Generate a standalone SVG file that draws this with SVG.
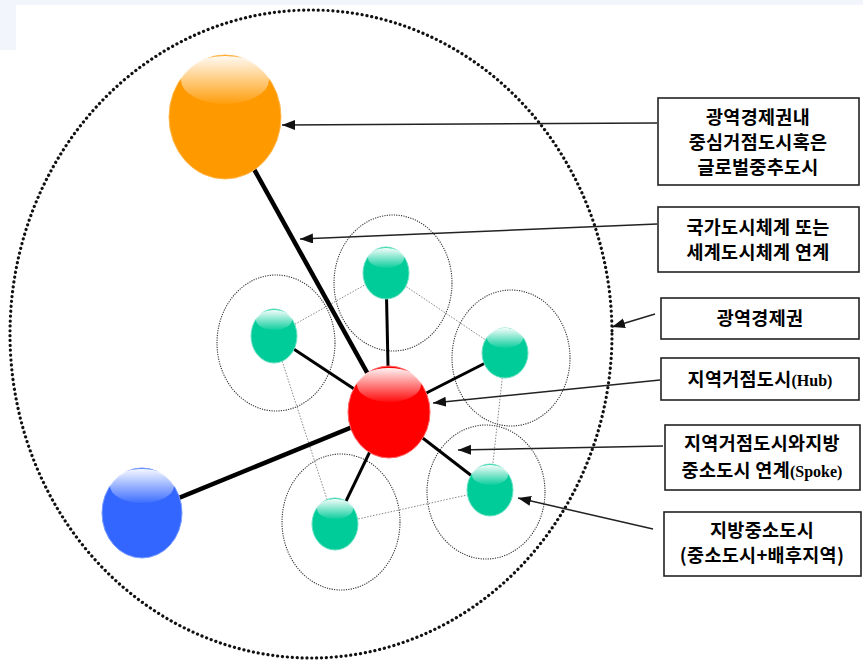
<svg xmlns="http://www.w3.org/2000/svg" width="863" height="661" viewBox="0 0 863 661">
<style>
.outer{fill:none;stroke:#111;stroke-width:3.2;stroke-linecap:round;stroke-dasharray:0.1 4.8}
.zone{fill:none;stroke:#333;stroke-width:1.1;stroke-dasharray:1.2 1.2}
.ring{fill:none;stroke:#888;stroke-width:1;stroke-dasharray:1.5 1.5}
.spoke{stroke:#000;stroke-width:3}
.link{stroke:#000;stroke-width:4.5}
.arrow{stroke:#222;stroke-width:1.5;fill:none;marker-end:url(#ah)}
.box{fill:#fff;stroke:#222;stroke-width:1.6}
.lbl{font-family:"Noto Sans CJK KR","Noto Sans",sans-serif;font-weight:bold;font-size:18.5px;fill:#000;text-anchor:middle;letter-spacing:0.3px}
.en{font-family:"Liberation Serif",serif;font-weight:bold;font-size:16px;letter-spacing:0}
.hl{fill:url(#shine)}
</style>
<defs>
<marker id="ah" markerUnits="userSpaceOnUse" markerWidth="14" markerHeight="12" refX="13" refY="5" orient="auto">
<path d="M0,0 L13,5 L0,10 Z" fill="#111"/>
</marker>
<linearGradient id="shine" x1="0" y1="0" x2="0" y2="1">
<stop offset="0" stop-color="#fff" stop-opacity="0.95"/>
<stop offset="1" stop-color="#fff" stop-opacity="0.05"/>
</linearGradient>
</defs>
<rect x="0" y="0" width="863" height="661" fill="#fff"/>
<rect x="0" y="0" width="863" height="5" fill="#f2f5fb"/>
<rect x="0" y="0" width="16" height="50" fill="#f2f5fb"/>

<g id="region">
<ellipse class="outer" cx="311" cy="334" rx="301" ry="324"/>
</g>

<g id="zones">
<ellipse class="zone" cx="393" cy="283" rx="59" ry="68"/>
<ellipse class="zone" cx="276" cy="343" rx="59" ry="68"/>
<ellipse class="zone" cx="511" cy="358" rx="59" ry="68"/>
<ellipse class="zone" cx="486" cy="492" rx="59" ry="67"/>
<ellipse class="zone" cx="341" cy="522" rx="59" ry="68"/>
</g>

<g id="connectors">
<path class="ring" d="M274,336 L386,273 L505,353 L490,490 L335,524 Z"/>
<line class="spoke" x1="389" y1="412" x2="386" y2="273"/>
<line class="spoke" x1="389" y1="412" x2="274" y2="336"/>
<line class="spoke" x1="389" y1="412" x2="505" y2="353"/>
<line class="spoke" x1="389" y1="412" x2="490" y2="490"/>
<line class="spoke" x1="389" y1="412" x2="335" y2="524"/>
<line class="link" x1="225" y1="117" x2="389" y2="412"/>
<line class="link" x1="142" y1="513" x2="389" y2="412"/>
</g>

<g id="node-global">
<ellipse cx="225" cy="117" rx="56" ry="62" fill="#ff9900" stroke="#ffb84d" stroke-width="1"/>
<ellipse class="hl" cx="225" cy="80" rx="44" ry="24"/>
</g>
<g id="node-blue">
<ellipse cx="142" cy="513" rx="40" ry="45" fill="#3366ff" stroke="#7a9cff" stroke-width="1"/>
<ellipse class="hl" cx="142" cy="486" rx="32" ry="17"/>
</g>
<g id="node-hub">
<ellipse cx="389" cy="412" rx="41" ry="46" fill="#ff0000" stroke="#ff6666" stroke-width="1"/>
<ellipse class="hl" cx="389" cy="385" rx="32" ry="17"/>
</g>
<g id="node-s1">
<ellipse cx="386" cy="273" rx="23" ry="26" fill="#00cc99" stroke="#66e0c2" stroke-width="1"/>
<ellipse class="hl" cx="386" cy="258" rx="18" ry="10"/>
</g>
<g id="node-s2">
<ellipse cx="274" cy="336" rx="23" ry="27" fill="#00cc99" stroke="#66e0c2" stroke-width="1"/>
<ellipse class="hl" cx="274" cy="320" rx="18" ry="10"/>
</g>
<g id="node-s3">
<ellipse cx="505" cy="353" rx="23" ry="25" fill="#00cc99" stroke="#66e0c2" stroke-width="1"/>
<ellipse class="hl" cx="505" cy="338" rx="18" ry="10"/>
</g>
<g id="node-s4">
<ellipse cx="490" cy="490" rx="23" ry="26" fill="#00cc99" stroke="#66e0c2" stroke-width="1"/>
<ellipse class="hl" cx="490" cy="475" rx="18" ry="10"/>
</g>
<g id="node-s5">
<ellipse cx="335" cy="524" rx="23" ry="26" fill="#00cc99" stroke="#66e0c2" stroke-width="1"/>
<ellipse class="hl" cx="335" cy="509" rx="18" ry="10"/>
</g>

<g id="arrows">
<line class="arrow" x1="657" y1="123" x2="282" y2="125"/>
<line class="arrow" x1="657" y1="224" x2="300" y2="239"/>
<line class="arrow" x1="655" y1="314" x2="612" y2="327"/>
<line class="arrow" x1="660" y1="380" x2="433" y2="403"/>
<line class="arrow" x1="663" y1="446" x2="458" y2="450"/>
<line class="arrow" x1="653" y1="529" x2="518" y2="498"/>
</g>

<g id="label-global">
<rect class="box" x="658" y="98" width="201" height="87"/>
<text class="lbl" x="758" y="124">광역경제권내</text>
<text class="lbl" x="758" y="149">중심거점도시혹은</text>
<text class="lbl" x="758" y="174">글로벌중추도시</text>
</g>
<g id="label-national">
<rect class="box" x="658" y="207" width="201" height="65"/>
<text class="lbl" x="758" y="234">국가도시체계 또는</text>
<text class="lbl" x="758" y="259">세계도시체계 연계</text>
</g>
<g id="label-region">
<rect class="box" x="661" y="298" width="198" height="41"/>
<text class="lbl" x="760" y="325">광역경제권</text>
</g>
<g id="label-hub">
<rect class="box" x="661" y="358" width="198" height="42"/>
<text class="lbl" x="760" y="386">지역거점도시<tspan class="en">(Hub)</tspan></text>
</g>
<g id="label-spoke">
<rect class="box" x="665" y="425" width="195" height="65"/>
<text class="lbl" x="762" y="450">지역거점도시와지방</text>
<text class="lbl" x="762" y="477">중소도시 연계<tspan class="en">(Spoke)</tspan></text>
</g>
<g id="label-small">
<rect class="box" x="664" y="512" width="197" height="64"/>
<text class="lbl" x="762" y="537">지방중소도시</text>
<text class="lbl" x="762" y="562">(중소도시+배후지역)</text>
</g>
</svg>
